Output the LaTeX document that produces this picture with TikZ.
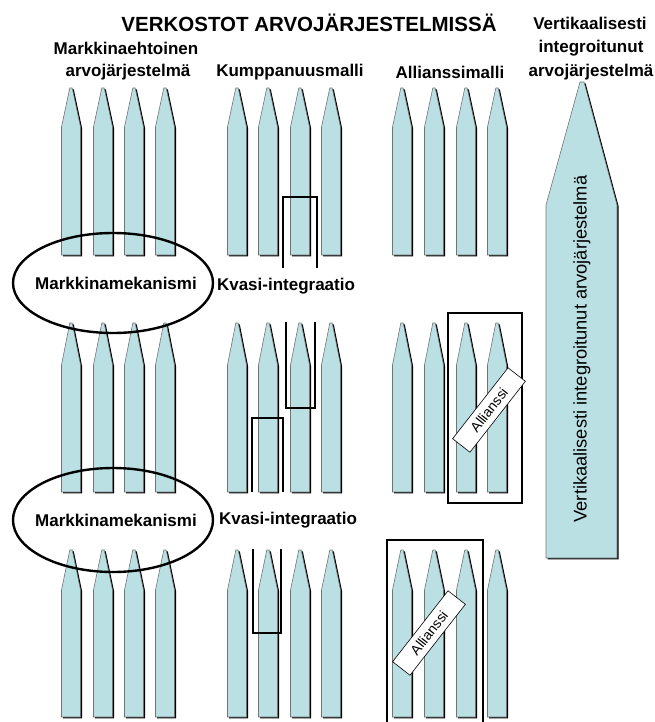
\documentclass[tikz,border=0pt]{standalone}
\usepackage{fontspec}
\setmainfont{Liberation Sans}
\definecolor{pencilfill}{RGB}{186,224,228}

\tikzset{
  pencil/.style={fill=pencilfill,draw=black!55,line width=0.6pt},
  pencilshadow/.style={fill=black,xshift=1.6pt,yshift=-1.3pt},
  frameline/.style={draw=black,line width=2.4pt},
  heading/.style={font=\bfseries\fontsize{17}{17}\selectfont,inner sep=0pt},
  allianceTag/.style={draw=black,fill=white,line width=0.6pt,rotate=52,
    minimum width=90pt,minimum height=22pt,inner sep=0pt,
    font=\fontsize{14}{14}\selectfont}
}

\begin{document}
\begin{tikzpicture}[x=1pt,y=-1pt]
        \useasboundingbox (0,0) rectangle (654,722);
        \def\halfW{9.5}

        % Small pencils: three rows, three groups of four.
        \foreach \tip/\sh/\bot in {88/127/255,323/365/492,550/590/717}{
          \foreach \cx in {71,103,134,165,237,268,300,331,402,434,466,497}{
            \fill[pencilshadow] ({\cx-\halfW},\bot) -- ({\cx-\halfW},\sh)
                -- ({\cx-1.2},\tip) -- ({\cx+1.2},\tip)
                -- ({\cx+\halfW},\sh) -- ({\cx+\halfW},\bot) -- cycle;
            \filldraw[pencil] ({\cx-\halfW},\bot) -- ({\cx-\halfW},\sh)
                -- ({\cx-1.2},\tip) -- ({\cx+1.2},\tip)
                -- ({\cx+\halfW},\sh) -- ({\cx+\halfW},\bot) -- cycle;
          }
        }

        % Vertically integrated system: one big pencil.
        \fill[pencilshadow] (546,558) -- (546,205) -- (580,82) -- (584,82)
            -- (617,205) -- (617,558) -- cycle;
        \filldraw[pencil] (546,558) -- (546,205) -- (580,82) -- (584,82)
            -- (617,205) -- (617,558) -- cycle;
        \node[rotate=90,font=\fontsize{18.3}{18.3}\selectfont,inner sep=0pt]
            (vertLabel) at (582,349)
            {Vertikaalisesti integroitunut arvojärjestelmä};

        % Market mechanism ellipses.
        \draw[line width=2.4pt] (113,283) ellipse [x radius=100,y radius=50];
        \draw[line width=2.4pt] (113,520) ellipse [x radius=100,y radius=52];

        % Partnership model: quasi-integration frames.
        \draw[frameline] (283,268) -- (283,197) -- (317,197) -- (317,268);
        \draw[frameline] (286,322) -- (286,408) -- (315,408) -- (315,322);
        \draw[frameline] (252,492) -- (252,418) -- (283,418) -- (283,492);
        \draw[frameline] (253,549) -- (253,633) -- (281,633) -- (281,549);

        % Alliance model: frames and tilted tags.
        \draw[frameline] (448,313) rectangle (522,503);
        \draw[frameline] (387,722) -- (387,540) -- (483,540) -- (483,722);
        \node[allianceTag] (tagMid) at (489,410) {Allianssi};
        \node[allianceTag] (tagLow) at (429,633) {Allianssi};

        % Headings.
        \node[heading,font=\bfseries\fontsize{20.5}{20.5}\selectfont]
            (title) at (309,23) {VERKOSTOT ARVOJÄRJESTELMISSÄ};
        \node[heading] (marketA) at (126,48) {Markkinaehtoinen};
        \node[heading] (marketB) at (128,72) {arvojärjestelmä};
        \node[heading] (partner) at (290,72) {Kumppanuusmalli};
        \node[heading] (alliance) at (450,72) {Allianssimalli};
        \node[heading] (vertA) at (590,23) {Vertikaalisesti};
        \node[heading] (vertB) at (591,48) {integroitunut};
        \node[heading] (vertC) at (591,72) {arvojärjestelmä};

        % Mechanism labels.
        \node[heading] (mechA) at (116,283) {Markkinamekanismi};
        \node[heading] (mechB) at (116,520) {Markkinamekanismi};
        \node[heading] (quasiA) at (286,286) {Kvasi-integraatio};
        \node[heading] (quasiB) at (288,520) {Kvasi-integraatio};
    \end{tikzpicture}
\end{document}
